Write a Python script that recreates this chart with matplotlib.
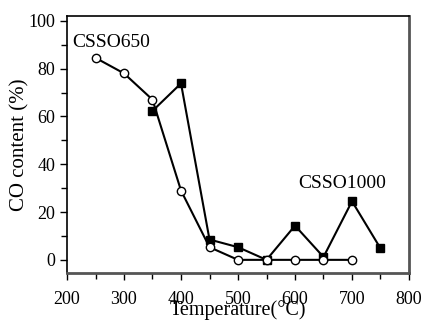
import numpy as np
import matplotlib.pyplot as plt
from matplotlib.ticker import MultipleLocator

plt.rcParams['font.family'] = ['Liberation Serif', 'DejaVu Serif']

# CSSO650 (open circles)
temp_650 = [250, 300, 350, 400, 450, 500, 550, 600, 650, 700]
co_650 = [84.5, 78, 67, 29, 5.3, 0, 0, 0, 0, 0]

# CSSO1000 (filled squares)
temp_1000 = [350, 400, 450, 500, 550, 600, 650, 700, 750]
co_1000 = [62.3, 73.8, 8.5, 5.3, 0, 14.3, 1.2, 24.5, 4.8]

fig = plt.figure(figsize=(4.24, 3.2), dpi=100)
ax = fig.add_axes([67 / 424, 1 - 273 / 320, (409 - 67) / 424, (273 - 16) / 320])

ax.plot(temp_1000, co_1000, '-s', color='black', linewidth=1.5,
        markersize=5.5, markerfacecolor='black', zorder=3)
ax.plot(temp_650, co_650, '-o', color='black', linewidth=1.5,
        markersize=6, markerfacecolor='white', zorder=4)

ax.set_xlim(200, 800)
ax.set_ylim(-5.5, 102)
ax.xaxis.set_major_locator(MultipleLocator(100))
ax.xaxis.set_minor_locator(MultipleLocator(50))
ax.yaxis.set_major_locator(MultipleLocator(20))
ax.yaxis.set_minor_locator(MultipleLocator(10))
ax.set_yticks(np.arange(0, 101, 20))
ax.tick_params(which='both', direction='out', labelsize=13, width=1, colors='black')
ax.tick_params(which='major', length=5)
ax.tick_params(which='minor', length=4)
ax.tick_params(axis='x', pad=8)

for s in ax.spines.values():
    s.set_linewidth(1.2)
ax.spines['bottom'].set_color('#555555')
ax.spines['right'].set_color('#555555')
ax.spines['bottom'].set_linewidth(2)
ax.spines['right'].set_linewidth(2)

ax.set_xlabel('Temperature(°C)', fontsize=14.5, labelpad=-6)
ax.set_ylabel('CO content (%)', fontsize=15, labelpad=-1)

ax.text(210, 91, 'CSSO650', fontsize=14, va='center', ha='left')
ax.text(605, 32, 'CSSO1000', fontsize=14, va='center', ha='left')

plt.savefig('out.png', dpi=100)
